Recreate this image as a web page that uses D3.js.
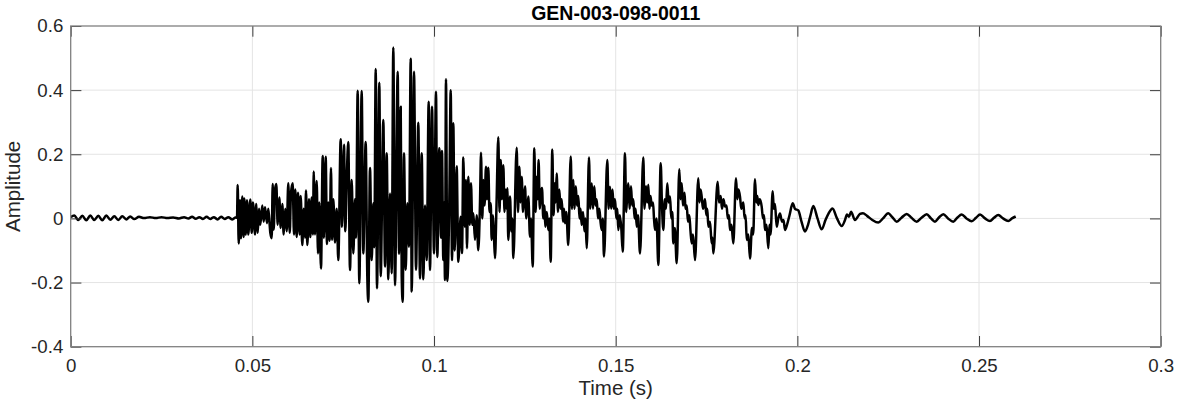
<!DOCTYPE html>
<html><head><meta charset="utf-8">
<script src="https://cdn.jsdelivr.net/npm/d3@7"></script>
<style>
body{margin:0;background:#fff}
svg{display:block}
text{font-family:"Liberation Sans",Arial,Helvetica,sans-serif}
</style>
</head><body><svg id="c" width="1177" height="404"></svg>
<script>
// ---------- chart text ----------
const title = "GEN-003-098-0011";
const xLabel = "Time (s)";
const yLabel = "Amplitude";
const xTickValues = [0, 0.05, 0.1, 0.15, 0.2, 0.25, 0.3];
const xTickLabels = ["0", "0.05", "0.1", "0.15", "0.2", "0.25", "0.3"];
const yTickValues = [-0.4, -0.2, 0, 0.2, 0.4, 0.6];
const yTickLabels = ["-0.4", "-0.2", "0", "0.2", "0.4", "0.6"];

// ---------- waveform, [time (s), amplitude] ----------
const preOnset = [[0.0000,0.004],[0.0010,0.009],[0.0021,-0.005],[0.0032,0.008],[0.0043,-0.006],[0.0054,0.009],[0.0065,-0.005],[0.0076,0.008],[0.0087,-0.006],[0.0098,0.009],[0.0109,-0.004],[0.0120,0.007],[0.0131,-0.005],[0.0142,0.007],[0.0153,-0.003],[0.0164,0.006],[0.0175,-0.002],[0.0188,0.005],[0.0202,0.001],[0.0218,0.004],[0.0234,0.001],[0.0250,0.004],[0.0266,0.001],[0.0282,0.003],[0.0298,0.000],[0.0312,0.004],[0.0324,0.000],[0.0334,0.005],[0.0344,-0.001],[0.0354,0.004],[0.0364,-0.002],[0.0374,0.005],[0.0384,-0.002],[0.0394,0.004],[0.0404,-0.003],[0.0414,0.005],[0.0424,-0.002],[0.0434,0.004],[0.0444,-0.003],[0.0454,0.003]];

const onset = [[0.04577,0.002],[0.04596,0.104],[0.04624,-0.078],[0.04660,0.057],[0.04687,-0.062],[0.04723,0.068],[0.04761,-0.058],[0.04778,0.062],[0.04817,-0.050],[0.04852,0.057],[0.04888,-0.050],[0.04943,0.059],[0.04982,-0.045],[0.05017,0.050],[0.05073,-0.050],[0.05108,0.045],[0.05147,-0.045],[0.05183,0.030],[0.05218,-0.020],[0.05273,0.040],[0.05312,-0.010],[0.05348,0.035],[0.05403,-0.015],[0.05439,0.030],[0.05494,-0.045],[0.05532,-0.062],[0.05560,0.107],[0.05587,-0.035],[0.05623,0.090],[0.05659,0.107],[0.05697,-0.020],[0.05741,0.065],[0.05780,-0.030],[0.05824,0.045],[0.05862,-0.050],[0.05906,0.030],[0.05945,-0.040],[0.05989,0.110],[0.06028,-0.045],[0.06063,0.080],[0.06110,0.110],[0.06146,-0.050],[0.06182,0.090],[0.06220,-0.058],[0.06256,0.080],[0.06303,-0.050],[0.06330,0.070],[0.06374,-0.083],[0.06413,0.030],[0.06449,-0.060],[0.06476,0.087],[0.06512,-0.083],[0.06559,0.060],[0.06595,-0.058],[0.06633,0.065],[0.06669,-0.050],[0.06688,0.146],[0.06724,-0.050],[0.06771,0.117],[0.06806,-0.109],[0.06842,0.050],[0.06889,-0.156],[0.06936,0.195],[0.06972,-0.060],[0.07018,0.192],[0.07054,-0.080],[0.07090,0.050],[0.07128,-0.070],[0.07164,0.157],[0.07192,-0.067],[0.07228,0.060],[0.07274,-0.075],[0.07321,0.030],[0.07365,-0.130],[0.07431,0.247],[0.07467,-0.026],[0.07522,0.230],[0.07558,-0.040],[0.07596,0.120],[0.07640,0.238],[0.07687,-0.161],[0.07734,0.120],[0.07778,-0.109],[0.07825,0.060],[0.07852,-0.060],[0.07899,0.398],[0.07943,-0.202],[0.08009,0.397],[0.08053,-0.109],[0.08119,0.238],[0.08163,-0.180],[0.08191,-0.260],[0.08238,0.157],[0.08284,-0.130],[0.08328,0.047],[0.08356,-0.090],[0.08395,0.466],[0.08430,-0.218],[0.08494,0.423],[0.08532,-0.180],[0.08604,0.307],[0.08651,-0.150],[0.08697,0.203],[0.08741,-0.190],[0.08788,0.078],[0.08835,-0.171],[0.08879,0.533],[0.08926,-0.208],[0.09000,0.457],[0.09036,-0.110],[0.09083,0.348],[0.09110,-0.180],[0.09138,-0.260],[0.09173,0.203],[0.09220,-0.160],[0.09264,0.047],[0.09311,-0.088],[0.09358,0.498],[0.09385,-0.228],[0.09449,0.457],[0.09504,-0.160],[0.09567,0.298],[0.09614,-0.187],[0.09661,0.203],[0.09705,-0.190],[0.09751,0.040],[0.09798,-0.130],[0.09853,0.364],[0.09889,-0.161],[0.09944,0.348],[0.09999,-0.109],[0.10054,0.395],[0.10090,-0.120],[0.10145,0.219],[0.10192,-0.060],[0.10219,0.210],[0.10255,-0.130],[0.10274,0.050],[0.10302,-0.192],[0.10329,0.434],[0.10365,-0.195],[0.10420,0.050],[0.10459,0.400],[0.10495,-0.130],[0.10530,0.297],[0.10569,-0.100],[0.10624,0.163],[0.10668,-0.135],[0.10734,0.005],[0.10770,-0.108],[0.10806,0.190],[0.10844,-0.026],[0.10880,0.120],[0.10907,-0.093],[0.10943,0.130],[0.10982,-0.020],[0.11017,0.110],[0.11053,-0.020],[0.11081,0.016],[0.11128,-0.067],[0.11174,0.010],[0.11218,-0.099],[0.11265,0.050]];

const sustain = [[0.11293,0.205],[0.11326,0.000],[0.11362,0.120],[0.11389,0.040],[0.11430,0.161],[0.11458,0.060],[0.11494,0.158],[0.11527,0.020],[0.11560,0.047],[0.11587,-0.067],[0.11623,0.010],[0.11651,-0.060],[0.11678,-0.124],[0.11719,0.040],[0.11769,0.253],[0.11802,0.020],[0.11835,0.182],[0.11865,0.060],[0.11907,0.166],[0.11940,0.020],[0.11975,0.090],[0.11995,0.030],[0.12017,0.094],[0.12044,-0.067],[0.12091,0.068],[0.12127,-0.040],[0.12154,0.000],[0.12182,-0.124],[0.12275,0.220],[0.12311,0.020],[0.12347,0.161],[0.12380,0.050],[0.12413,0.130],[0.12449,0.020],[0.12504,0.100],[0.12540,0.000],[0.12595,0.068],[0.12641,-0.057],[0.12669,0.000],[0.12716,-0.150],[0.12760,0.219],[0.12793,0.020],[0.12829,0.130],[0.12851,0.060],[0.12878,0.182],[0.12911,0.030],[0.12939,0.080],[0.12972,0.095],[0.13007,0.000],[0.13040,0.040],[0.13062,-0.026],[0.13104,0.020],[0.13145,-0.036],[0.13173,0.000],[0.13211,-0.135],[0.13255,0.215],[0.13288,0.010],[0.13324,0.110],[0.13346,0.050],[0.13376,0.140],[0.13412,0.020],[0.13448,0.090],[0.13481,0.030],[0.13514,0.060],[0.13550,-0.010],[0.13577,0.030],[0.13605,-0.015],[0.13640,0.020],[0.13695,-0.083],[0.13762,0.193],[0.13797,0.030],[0.13833,0.120],[0.13866,0.030],[0.13902,0.100],[0.13935,0.040],[0.13971,0.070],[0.14004,0.000],[0.14031,0.030],[0.14064,-0.020],[0.14100,0.020],[0.14141,-0.040],[0.14169,0.000],[0.14202,-0.093],[0.14265,0.190],[0.14298,0.030],[0.14340,0.110],[0.14375,0.030],[0.14411,0.100],[0.14444,0.040],[0.14477,0.060],[0.14513,0.000],[0.14549,0.030],[0.14582,-0.010],[0.14615,-0.036],[0.14645,0.000],[0.14678,-0.119],[0.14769,0.182],[0.14805,0.030],[0.14843,0.099],[0.14876,0.030],[0.14912,0.090],[0.14945,0.030],[0.14981,0.060],[0.15017,0.000],[0.15044,0.030],[0.15072,-0.036],[0.15113,0.010],[0.15154,-0.030],[0.15193,-0.104],[0.15256,0.203],[0.15289,0.020],[0.15319,0.080],[0.15347,0.110],[0.15383,0.030],[0.15421,0.100],[0.15454,0.040],[0.15484,0.060],[0.15520,0.000],[0.15548,0.030],[0.15578,-0.026],[0.15614,0.010],[0.15669,-0.109],[0.15760,0.190],[0.15793,0.030],[0.15834,0.100],[0.15867,0.050],[0.15897,0.105],[0.15930,0.030],[0.15958,0.070],[0.15991,0.040],[0.16027,0.050],[0.16054,0.000],[0.16082,-0.036],[0.16123,0.000],[0.16173,-0.145],[0.16239,0.172],[0.16274,0.040],[0.16310,-0.036],[0.16351,0.060],[0.16384,0.030],[0.16420,0.110],[0.16456,0.050],[0.16495,0.068],[0.16530,0.000],[0.16558,0.020],[0.16585,-0.078],[0.16627,-0.030],[0.16679,-0.140],[0.16751,0.153],[0.16784,0.060],[0.16817,0.110],[0.16852,0.040],[0.16894,0.080],[0.16921,0.030],[0.16954,0.040],[0.16990,-0.010],[0.17026,0.010],[0.17059,-0.040],[0.17092,-0.078],[0.17128,-0.050],[0.17183,-0.130],[0.17273,0.125],[0.17306,0.050],[0.17334,0.090],[0.17367,0.068],[0.17403,0.030],[0.17458,0.060],[0.17494,0.010],[0.17521,0.030],[0.17549,-0.026],[0.17595,-0.010],[0.17642,-0.078],[0.17664,-0.060],[0.17686,-0.109],[0.17807,0.114],[0.17843,0.050],[0.17890,0.070],[0.17926,0.030],[0.17967,0.060],[0.18008,0.037],[0.18050,0.040],[0.18085,0.000],[0.18118,0.010],[0.18146,-0.036],[0.18187,-0.020],[0.18237,-0.078],[0.18311,0.125],[0.18347,0.060],[0.18380,0.090],[0.18421,0.068],[0.18457,0.030],[0.18512,0.050],[0.18548,0.000],[0.18575,0.010],[0.18606,-0.067],[0.18650,-0.050],[0.18696,-0.125],[0.18751,-0.030],[0.18784,-0.050],[0.18834,0.122],[0.18870,0.050],[0.18897,0.070],[0.18925,0.042],[0.18966,0.060],[0.19018,0.037],[0.19054,0.000],[0.19082,0.010],[0.19109,-0.036],[0.19150,-0.020],[0.19200,-0.093]];

const decay = [[0.19233,-0.020],[0.19261,-0.050],[0.19321,0.085],[0.19351,0.030],[0.19384,0.045],[0.19431,-0.026],[0.19475,0.000],[0.19522,0.015],[0.19577,-0.010],[0.19618,-0.005],[0.19660,-0.036],[0.19715,-0.020],[0.19784,0.010],[0.19872,0.047],[0.19935,0.030],[0.20026,0.025],[0.20114,-0.010],[0.20210,-0.041],[0.20293,-0.020],[0.20362,0.010],[0.20439,0.039],[0.20554,0.000],[0.20670,-0.034],[0.20774,-0.005],[0.20857,0.015],[0.20967,0.031],[0.21091,0.000],[0.21220,-0.024],[0.21311,-0.005],[0.21366,0.012],[0.21421,0.005],[0.21476,0.021],[0.21586,-0.005],[0.21724,0.014],[0.21806,0.016],[0.21917,0.008],[0.22054,-0.004],[0.22228,-0.013],[0.22357,0.000],[0.22503,0.016],[0.22605,0.005],[0.22734,-0.010],[0.22866,0.002],[0.23009,0.014],[0.23141,0.002],[0.23284,-0.010],[0.23417,0.002],[0.23560,0.013],[0.23678,0.000],[0.23788,-0.010],[0.23898,0.003],[0.24017,0.013],[0.24146,0.000],[0.24292,-0.010],[0.24407,0.003],[0.24523,0.012],[0.24655,0.000],[0.24798,-0.009],[0.24917,0.002],[0.25027,0.012],[0.25164,0.000],[0.25302,-0.008],[0.25412,0.002],[0.25530,0.011],[0.25660,0.000],[0.25806,-0.008],[0.25907,0.000],[0.26009,0.006]];

const waveform = preOnset.concat(onset, sustain, decay);

// ---------- layout ----------
const L = 70.7, R = 1160.7, T = 26, B = 346.7;
const tickLen = 10.7;
const svg = d3.select("#c");
const x = d3.scaleLinear().domain([0, 0.3]).range([L, R]);
const y = d3.scaleLinear().domain([-0.4, 0.6]).range([B, T]);

// grid
const grid = svg.append("g").attr("stroke", "#e4e4e4").attr("stroke-width", 1);
grid.selectAll(".gx").data(xTickValues.slice(1, -1)).join("line")
  .attr("x1", d => x(d)).attr("x2", d => x(d)).attr("y1", T).attr("y2", B);
grid.selectAll(".gy").data(yTickValues.slice(1, -1)).join("line")
  .attr("y1", d => y(d)).attr("y2", d => y(d)).attr("x1", L).attr("x2", R);

// waveform
const line = d3.line()
  .x(d => x(d[0]))
  .y(d => y(d[1]))
  .curve(d3.curveMonotoneX);
svg.append("path").datum(waveform)
  .attr("d", line)
  .attr("fill", "none")
  .attr("stroke", "#000")
  .attr("stroke-width", 2.5)
  .attr("stroke-linejoin", "round");

// axes (ticks pointing inward, MATLAB style)
const fmtX = d => xTickLabels[xTickValues.indexOf(d)];
const fmtY = d => yTickLabels[yTickValues.indexOf(d)];

const gB = svg.append("g").attr("transform", `translate(0,${B})`)
  .call(d3.axisBottom(x).tickValues(xTickValues).tickFormat(fmtX)
    .tickSizeInner(-tickLen).tickSizeOuter(0).tickPadding(11.7));
const gT = svg.append("g").attr("transform", `translate(0,${T})`)
  .call(d3.axisTop(x).tickValues(xTickValues).tickFormat("")
    .tickSizeInner(-tickLen).tickSizeOuter(0));
const gL = svg.append("g").attr("transform", `translate(${L},0)`)
  .call(d3.axisLeft(y).tickValues(yTickValues).tickFormat(fmtY)
    .tickSizeInner(-tickLen).tickSizeOuter(0).tickPadding(7.4));
const gR = svg.append("g").attr("transform", `translate(${R},0)`)
  .call(d3.axisRight(y).tickValues(yTickValues).tickFormat("")
    .tickSizeInner(-tickLen).tickSizeOuter(0));

[gB, gT, gL, gR].forEach(g => {
  g.select(".domain").remove();
  g.selectAll(".tick line").attr("stroke", "#3a3a3a").attr("stroke-width", 1);
  g.selectAll(".tick text").attr("fill", "#262626")
    .style("font-size", "18.7px")
    .style("font-family", '"Liberation Sans", Arial, Helvetica, sans-serif');
});

// box
svg.append("rect").attr("x", L).attr("y", T).attr("width", R - L).attr("height", B - T)
  .attr("fill", "none").attr("stroke", "#808080").attr("stroke-width", 1.3);

// labels
svg.append("text").attr("x", (L + R) / 2).attr("y", 19.5)
  .attr("text-anchor", "middle").attr("font-weight", "bold")
  .attr("font-size", "19.5px").attr("fill", "#000").text(title);
svg.append("text").attr("x", (L + R) / 2).attr("y", 394.5)
  .attr("text-anchor", "middle").attr("font-size", "20.5px").attr("fill", "#262626").text(xLabel);
svg.append("text").attr("transform", `translate(19.5,${(T + B) / 2}) rotate(-90)`)
  .attr("text-anchor", "middle").attr("font-size", "20.5px").attr("fill", "#262626").text(yLabel);
</script>
</body></html>
